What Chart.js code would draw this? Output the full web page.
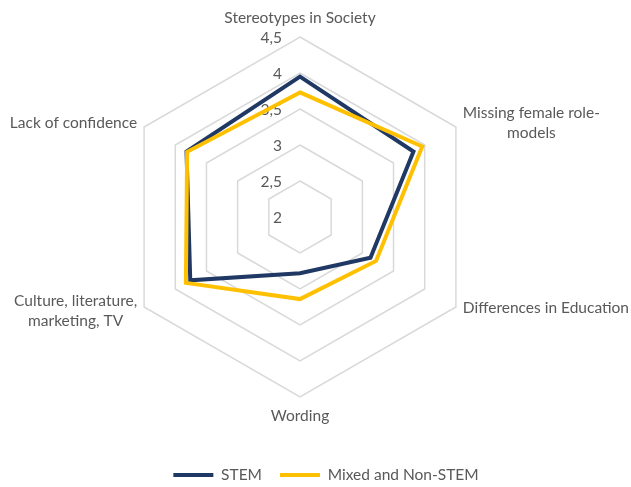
<!DOCTYPE html>
<html>
<head>
<meta charset="utf-8">
<script src="https://cdn.jsdelivr.net/npm/chart.js@4.4.0/dist/chart.umd.min.js"></script>
<style>
  html, body { margin: 0; padding: 0; background: #fff; }
</style>
</head>
<body>
<canvas id="c" width="631" height="487"></canvas>
<script>
// --- data ------------------------------------------------------------------
var AXES = [["Stereotypes in Society"], ["Missing female role-", "models"],
  ["Differences in Education"], ["Wording"],
  ["Culture, literature,", "marketing, TV"], ["Lack of confidence"]];
var STEM = [3.95, 3.82, 3.13, 2.78, 3.76, 3.82];
var MIXED = [3.73, 3.96, 3.22, 3.14, 3.83, 3.81];
var TICK_MIN = 2, TICK_MAX = 4.5, TICK_STEP = 0.5;

var TEXT = "#595959";
var FONT = "Lato, 'Open Sans', sans-serif";
var FSIZE = 15.5;
var NAVY = "#203864", GOLD = "#FFC000";

// Excel-style labels: tick values with decimal comma left of the top axis,
// category labels centred per line, hugging the outer hexagon.
var excelLabels = {
  id: "excelLabels",
  afterLayout: function (chart) {
    // legend sits a bit right of the radar centre in the original
    chart.legend.left += 26; chart.legend.right += 26;
  },
  beforeDatasetsDraw: function (chart) {
    var s = chart.scales.r, ctx = chart.ctx;
    ctx.save();
    ctx.fillStyle = TEXT;
    ctx.font = FSIZE + "px " + FONT;
    ctx.textAlign = "right"; ctx.textBaseline = "middle";
    s.ticks.forEach(function (t) {
      var d = s.getDistanceFromCenterForValue(t.value);
      ctx.fillText(String(t.value).replace(".", ","), s.xCenter - 18, s.yCenter - d + 1);
    });
    ctx.textAlign = "center";
    chart.data.labels.forEach(function (lab, i) {
      var p = s.getPointPosition(i, s.drawingArea + (i % 3 === 0 ? 19 : 8));
      var lines = [].concat(lab), lh = 19.5;
      var w = Math.max.apply(null, lines.map(function (l) { return ctx.measureText(l).width; }));
      var cx = p.x < s.xCenter - 1 ? p.x - w / 2 : (p.x > s.xCenter + 1 ? p.x + w / 2 : p.x);
      var dy = (lines.length === 1 && p.y > s.yCenter && i % 3 !== 0) ? -3 : 0;
      lines.forEach(function (l, k) {
        ctx.fillText(l, cx, p.y + dy + (k - (lines.length - 1) / 2) * lh);
      });
    });
    ctx.restore();
  }
};

new Chart(document.getElementById("c").getContext("2d"), {
  type: "radar",
  data: {
    labels: AXES,
    datasets: [
      { label: "STEM", data: STEM, borderColor: NAVY, backgroundColor: NAVY,
        borderWidth: 4, fill: false, pointRadius: 0, borderCapStyle: "round",
        borderJoinStyle: "miter", order: 2 },
      { label: "Mixed and Non-STEM", data: MIXED, borderColor: GOLD, backgroundColor: GOLD,
        borderWidth: 4, fill: false, pointRadius: 0, borderCapStyle: "round",
        borderJoinStyle: "miter", order: 1 }
    ]
  },
  options: {
    responsive: false, animation: false,
    layout: { autoPadding: false, padding: { top: 0, bottom: -5.75, left: 120, right: 151 } },
    plugins: {
      legend: {
        position: "bottom",
        // empty title only reserves space so the radar sits higher
        title: { display: true, text: "", font: { size: 10 }, padding: { top: 0, bottom: 3.25 } },
        labels: {
          usePointStyle: true, pointStyle: "line", pointStyleWidth: 40,
          padding: 18, color: TEXT, font: { family: FONT, size: FSIZE },
          sort: function (a, b) { return a.datasetIndex - b.datasetIndex; }
        }
      },
      tooltip: { enabled: true }
    },
    scales: {
      r: {
        min: TICK_MIN, max: TICK_MAX, beginAtZero: false,
        ticks: { stepSize: TICK_STEP, display: false },
        grid: { color: "#D9D9D9", lineWidth: 1.5, circular: false },
        angleLines: { display: false },
        pointLabels: { display: false }
      }
    }
  },
  plugins: [excelLabels]
});
</script>
</body>
</html>
